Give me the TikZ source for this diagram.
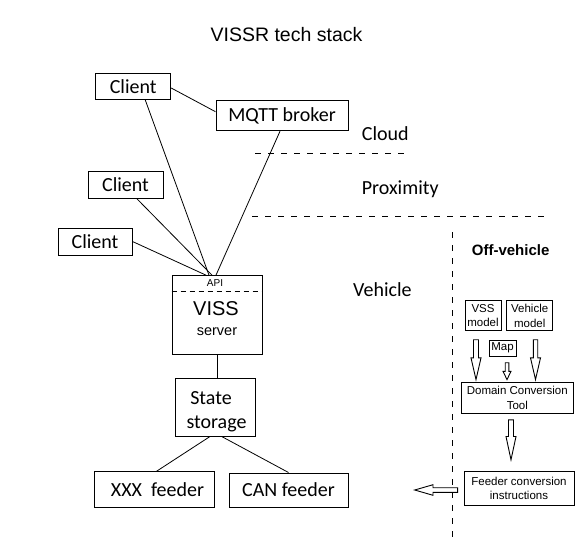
\documentclass[tikz,border=0pt]{standalone}
\usepackage{fontspec}
\newfontfamily\calfont{Carlito}
\newfontfamily\arifont{Liberation Sans}
\usetikzlibrary{calc}
\tikzset{
  box/.style={draw, line width=1pt, inner sep=0pt, align=center},
  sbox/.style={draw, line width=0.9pt, inner sep=0pt, align=center, font=\arifont\fontsize{11.5}{14.5}\selectfont},
  bigtxt/.style={font=\calfont\fontsize{20}{25}\selectfont},
  plain/.style={inner sep=0pt},
  link/.style={line width=0.8pt},
  zone/.style={line width=1pt, dash pattern=on 6pt off 7pt},
  hollow/.style={draw, line width=0.9pt, fill=white},
}
\newcommand\hollowdown[5]{\draw[hollow] let \p1=(#1), \p2=(#2) in
  (\x1-#3,\y1) -- (\x1-#3,\y2+#5) -- (\x1-#4,\y2+#5) -- (\x1,\y2) --
  (\x1+#4,\y2+#5) -- (\x1+#3,\y2+#5) -- (\x1+#3,\y1) -- cycle;}
\newcommand\hollowleft[5]{\draw[hollow] let \p1=(#1), \p2=(#2) in
  (\x1,\y1+#3) -- (\x2+#5,\y1+#3) -- (\x2+#5,\y1+#4) -- (\x2,\y1) --
  (\x2+#5,\y1-#4) -- (\x2+#5,\y1-#3) -- (\x1,\y1-#3) -- cycle;}
\begin{document}
\begin{tikzpicture}[x=1pt,y=-1pt]
\fill[white] (0,0) rectangle (581,539);
\useasboundingbox (0,0) rectangle (581,539);

% title
\node[plain, anchor=base, font=\arifont\fontsize{19.5}{23}\selectfont] (title) at (286.5,41.7) {VISSR tech stack};

% zones
\draw[zone] (255,153) -- (405,153);
\draw[zone] (252,216.7) -- (547,216.7);
\draw[zone] (452,232) -- (452,537);
\node[plain, anchor=base west, bigtxt] (cloud) at (361.7,140.7) {Cloud};
\node[plain, anchor=base west, bigtxt] (prox) at (361.7,194) {Proximity};
\node[plain, anchor=base west, bigtxt] (veh) at (353,296.7) {Vehicle};
\node[plain, anchor=base west, font=\arifont\bfseries\fontsize{15}{18}\selectfont] (off) at (471.7,255) {Off-vehicle};

% left stack
\node[box, bigtxt, minimum width=75pt, minimum height=26pt] (c1) at (133.2,86.3) {Client};
\node[box, bigtxt, minimum width=132pt, minimum height=30pt] (mqtt) at (282,115.7) {MQTT broker};
\node[box, bigtxt, minimum width=75pt, minimum height=26.3pt] (c2) at (125.5,184.9) {Client};
\node[box, bigtxt, minimum width=74pt, minimum height=27pt] (c3) at (95,241.5) {Client};

\node[box, minimum width=90pt, minimum height=79.3pt] (viss) at (217,315.3) {};
\coordinate (apiL) at ($(viss.north west)+(0,16)$);
\coordinate (apiR) at ($(viss.north east)+(0,16)$);
\draw[line width=0.9pt, dash pattern=on 5pt off 4pt] (apiL) -- (apiR);
\node[plain, font=\arifont\fontsize{10}{12}\selectfont] (api) at (215,283.5) {API};
\node[plain, font=\arifont\fontsize{20}{24}\selectfont] (vissl) at (216,308.3) {VISS};
\node[plain, font=\arifont\fontsize{14.5}{17}\selectfont] (server) at (217,332) {server};

\node[box, minimum width=80pt, minimum height=58pt] (state) at (215.7,407) {};
\node[plain, anchor=base, bigtxt] (statel) at (211,404.3) {State};
\node[plain, anchor=base, bigtxt] (storl) at (216.5,428.8) {storage};

\node[box, bigtxt, minimum width=120pt, minimum height=36.3pt] (xxx) at (154,489.8) {\hspace{7pt}XXX\ \ feeder};
\node[box, bigtxt, minimum width=119pt, minimum height=34pt] (can) at (288.5,490) {CAN feeder};

% connectors
\draw[link] ([xshift=12pt]c1.south) -- ([xshift=-8pt]viss.north);
\draw[link] ([xshift=11.2pt]c2.south) -- ([xshift=-5pt]viss.north);
\draw[link] (c3.east) -- ([xshift=-11pt]viss.north);
\draw[link] ([xshift=-2pt]mqtt.south) -- ([xshift=-1pt]viss.north);
\draw[link] ([yshift=-1.7pt]c1.east) -- ([yshift=4pt]mqtt.west);
\draw[link] (viss.south) -- (viss.south |- state.north);
\draw[link] ([xshift=-5.7pt]state.south) -- ([xshift=2.7pt]xxx.north);
\draw[link] ([xshift=6pt]state.south) -- (can.north);

% off-vehicle
\node[sbox, minimum width=36pt, minimum height=30pt] (vssm) at (483,315.7) {VSS\\model};
\node[sbox, minimum width=46pt, minimum height=30pt] (vehm) at (529.7,315.7) {Vehicle\\model};
\node[sbox, minimum width=27pt, minimum height=16pt] (map) at (502.5,348) {Map};
\node[sbox, minimum width=111.3pt, minimum height=31.3pt] (dct) at (517.3,397.7) {Domain Conversion\\Tool};
\node[sbox, minimum width=110pt, minimum height=33.3pt] (fci) at (519,488.3) {Feeder conversion\\instructions};
\coordinate (offedge) at (414.7,490);

\hollowdown{[xshift=-7pt,yshift=-8.6pt]vssm.south}{[yshift=2pt]dct.north}{2.5pt}{5pt}{21.7pt}
\hollowdown{[xshift=5.8pt,yshift=-8.6pt]vehm.south}{[yshift=2pt]dct.north}{2.2pt}{5pt}{21.7pt}
\hollowdown{[xshift=4.5pt,yshift=-6.3pt]map.south}{[yshift=2pt]dct.north}{1.8pt}{4pt}{8.3pt}
\hollowdown{[xshift=-6.3pt,yshift=-6pt]dct.south}{[yshift=11.4pt]fci.north}{2.5pt}{5pt}{23.3pt}
\hollowleft{[xshift=-6pt,yshift=-1.7pt]fci.west}{offedge}{2.3pt}{5.3pt}{18.3pt}
\end{tikzpicture}
\end{document}
